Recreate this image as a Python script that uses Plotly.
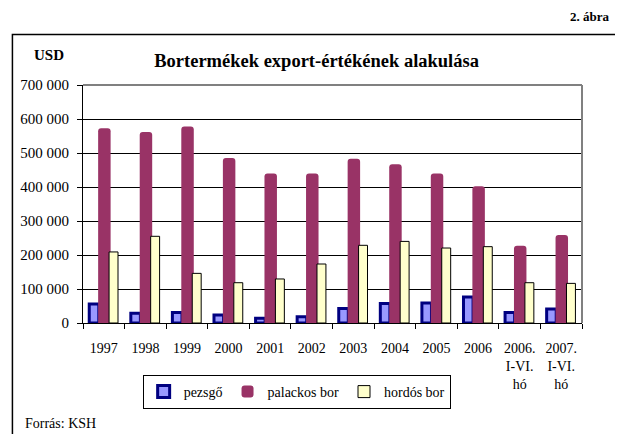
import plotly.graph_objects as go

# ---- data ----
categories = ["1997", "1998", "1999", "2000", "2001", "2002", "2003", "2004",
              "2005", "2006", "2006.<br>I-VI.<br>hó", "2007.<br>I-VI.<br>hó"]
pezsgo = [56000, 29000, 31000, 23500, 14000, 18500, 43000, 57000, 59000, 76500, 31000, 41000]
palackos_bor = [573000, 562000, 578000, 485000, 440000, 440000, 483000, 467000, 440000, 402000, 227000, 259000]
hordos_bor = [209000, 255000, 146000, 118500, 129500, 173500, 228500, 240000, 220500, 224500, 118500, 116500]
series_names = ["pezsgő", "palackos bor", "hordós bor"]
y_tickvals = [0, 100000, 200000, 300000, 400000, 500000, 600000, 700000]
y_ticktext = ["0", "100 000", "200 000", "300 000", "400 000", "500 000", "600 000", "700 000"]
title_text = "Bortermékek export-értékének alakulása"
unit_text = "USD"
figure_label = "2. ábra"
source_text = "Forrás: KSH"

# ---- layout geometry (window pixels; page body has an 8px margin) ----
OFF = 8
WIN_W, WIN_H = 623, 434
W, H = WIN_W - OFF, WIN_H - OFF
L, R, T, B = 80, 582, 85, 323   # plot area in window pixels


def px_x(px):
    return (px - L) / (R - L)


def px_y(py):
    return (B - py) / (B - T)


FONT = "Liberation Serif, Times New Roman, serif"

fig = go.Figure()
fig.add_trace(go.Bar(
    x=categories, y=pezsgo, name=series_names[0],
    offset=-0.35, width=0.23,
    marker=dict(color="#9999FF", line=dict(color="#000080", width=3)),
))
fig.add_trace(go.Bar(
    x=categories, y=palackos_bor, name=series_names[1],
    offset=-0.136, width=0.30,
    marker=dict(color="#993366", line=dict(width=0), cornerradius=3),
))
fig.add_trace(go.Bar(
    x=categories, y=hordos_bor, name=series_names[2],
    offset=0.127, width=0.215,
    marker=dict(color="#FFFFCC", line=dict(color="#000000", width=1)),
))

fig.update_layout(
    width=W, height=H,
    margin=dict(l=L - OFF, r=WIN_W - R, t=T - OFF, b=WIN_H - B, pad=0),
    barmode="overlay",
    paper_bgcolor="white", plot_bgcolor="white",
    font=dict(family=FONT, size=14, color="black"),
    showlegend=True,
    legend=dict(
        orientation="h", x=px_x(140), y=px_y(375), xanchor="left", yanchor="top",
        bordercolor="black", borderwidth=1, bgcolor="white",
        font=dict(family=FONT, size=14), itemwidth=30,
        traceorder="normal",
    ),
    title=dict(
        text="<b>" + title_text + "</b>", x=px_x(315), xanchor="center",
        xref="paper", yref="container", y=1 - (61 - OFF) / H, yanchor="middle",
        font=dict(family=FONT, size=18.5, color="black"),
    ),
    xaxis=dict(
        type="category", showline=True, linecolor="black", linewidth=1,
        ticks="outside", tickson="boundaries", ticklen=5, tickcolor="black",
        showgrid=False, tickfont=dict(family=FONT, size=14), tickangle=0,
        ticklabelstandoff=12,
    ),
    yaxis=dict(
        range=[0, 700000], tickvals=y_tickvals, ticktext=y_ticktext,
        showline=True, linecolor="black", linewidth=1,
        ticks="outside", ticklen=5, tickcolor="black",
        showgrid=True, gridcolor="black", gridwidth=1, zeroline=False,
        tickfont=dict(family=FONT, size=15), ticklabelstandoff=5,
    ),
    shapes=[
        # plot area frame (gray top/right)
        dict(type="line", xref="paper", yref="paper", x0=0, x1=1, y0=1, y1=1,
             line=dict(color="#808080", width=2), layer="above"),
        dict(type="line", xref="paper", yref="paper", x0=1, x1=1, y0=0, y1=1,
             line=dict(color="#808080", width=2), layer="above"),
        # outer chart border
        dict(type="rect", xref="paper", yref="paper",
             x0=px_x(9), x1=px_x(617), y0=px_y(445), y1=px_y(34.5),
             line=dict(color="black", width=1.5), layer="below"),
    ],
    annotations=[
        dict(text="<b>" + unit_text + "</b>", xref="paper", yref="paper",
             x=px_x(46), y=px_y(55), xanchor="center", yanchor="middle",
             showarrow=False, font=dict(family=FONT, size=15)),
        dict(text="<b>" + figure_label + "</b>", xref="paper", yref="paper",
             x=px_x(612), y=px_y(17), xanchor="right", yanchor="middle",
             showarrow=False, font=dict(family=FONT, size=13)),
        dict(text=source_text, xref="paper", yref="paper",
             x=px_x(20), y=px_y(423), xanchor="left", yanchor="middle",
             showarrow=False, font=dict(family=FONT, size=14)),
    ],
)

fig.write_html("out.html")
